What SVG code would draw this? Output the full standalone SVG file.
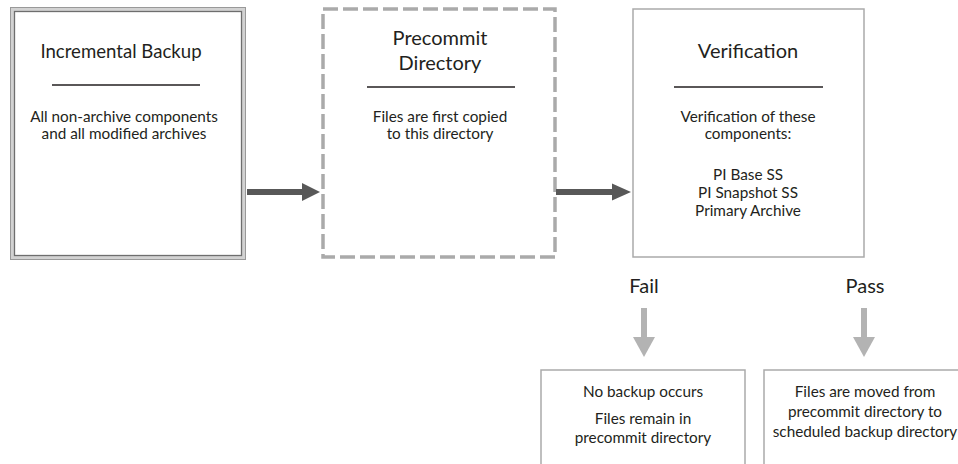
<svg xmlns="http://www.w3.org/2000/svg" width="958" height="464" viewBox="0 0 958 464">
  <style>
    text { font-family: Lato, "Open Sans", "Liberation Sans", sans-serif; fill: #231f20; text-anchor: middle; }
    .title { font-size: 20px; }
    .body { font-size: 15.3px; }
    .rule { stroke: #231f20; stroke-width: 1.3; }
    .box { fill: #fff; stroke: #aaa; stroke-width: 1.5; }
    .dash { fill: #fff; stroke: #aaa; stroke-width: 3.5; stroke-dasharray: 15 5; }
    .flow { fill: #585858; }
    .branch { fill: #b3b3b3; }
  </style>
  <rect width="958" height="464" fill="#fff"/>

  <g id="incremental-backup">
    <rect x="10.5" y="7.5" width="235" height="252" fill="#fff" stroke="#999" stroke-width="1"/>
    <rect x="12.5" y="9.5" width="231" height="248" fill="none" stroke="#d2d2d2" stroke-width="3"/>
    <rect x="14.5" y="11.5" width="227" height="244" fill="none" stroke="#6e6e6e" stroke-width="1.3"/>
    <text class="title" x="121" y="58" style="font-size:18.6px">Incremental Backup</text>
    <line class="rule" x1="52" y1="85" x2="200" y2="85"/>
    <text class="body" x="124" y="122">All non-archive components</text>
    <text class="body" x="124" y="139">and all modified archives</text>
  </g>

  <g id="precommit-directory">
    <rect class="dash" x="323" y="9" width="232" height="248"/>
    <text class="title" x="440" y="45">Precommit</text>
    <text class="title" x="440" y="70">Directory</text>
    <line class="rule" x1="367" y1="87" x2="515" y2="87"/>
    <text class="body" x="440" y="122">Files are first copied</text>
    <text class="body" x="440" y="139">to this directory</text>
  </g>

  <g id="verification">
    <rect class="box" x="633" y="9" width="231" height="248"/>
    <text class="title" x="748" y="58">Verification</text>
    <line class="rule" x1="674" y1="87" x2="823" y2="87"/>
    <text class="body" x="748" y="122">Verification of these</text>
    <text class="body" x="748" y="139">components:</text>
    <text class="body" x="748" y="180">PI Base SS</text>
    <text class="body" x="748" y="198">PI Snapshot SS</text>
    <text class="body" x="748" y="216">Primary Archive</text>
  </g>

  <g id="fail-result">
    <rect class="box" x="541" y="370" width="204" height="110"/>
    <text class="body" x="643" y="397">No backup occurs</text>
    <text class="body" x="643" y="424">Files remain in</text>
    <text class="body" x="643" y="443">precommit directory</text>
  </g>

  <g id="pass-result">
    <rect class="box" x="764" y="370" width="220" height="110"/>
    <text class="body" x="865" y="397">Files are moved from</text>
    <text class="body" x="865" y="417">precommit directory to</text>
    <text class="body" x="865" y="437">scheduled backup directory</text>
  </g>

  <g id="connectors">
    <rect class="flow" x="247" y="189" width="57" height="6"/>
    <polygon class="flow" points="302,183 320,192 302,201"/>
    <rect class="flow" x="556" y="189" width="58" height="6"/>
    <polygon class="flow" points="612,183.5 631,192 612,200.5"/>

    <text class="title" x="644" y="293">Fail</text>
    <rect class="branch" x="641" y="308" width="6" height="30"/>
    <polygon class="branch" points="633,337 655,337 644,357"/>

    <text class="title" x="865" y="293">Pass</text>
    <rect class="branch" x="861" y="308" width="6" height="30"/>
    <polygon class="branch" points="853,337 875,337 864,357"/>
  </g>
</svg>
